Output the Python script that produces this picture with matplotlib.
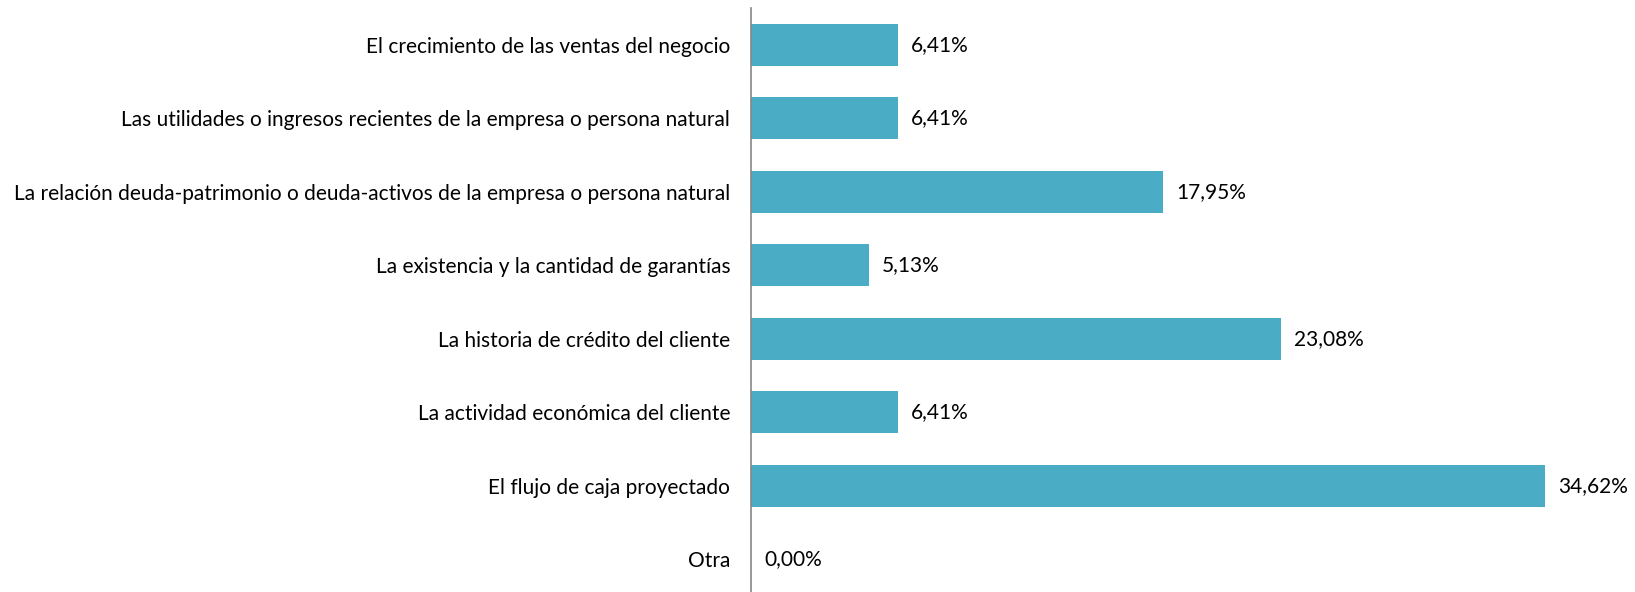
import matplotlib
matplotlib.use("Agg")
import matplotlib.pyplot as plt

categories = [
    "El crecimiento de las ventas del negocio",
    "Las utilidades o ingresos recientes de la empresa o persona natural",
    "La relación deuda-patrimonio o deuda-activos de la empresa o persona natural",
    "La existencia y la cantidad de garantías",
    "La historia de crédito del cliente",
    "La actividad económica del cliente",
    "El flujo de caja proyectado",
    "Otra",
]
values = [6.41, 6.41, 17.95, 5.13, 23.08, 6.41, 34.62, 0.00]
labels = ["6,41%", "6,41%", "17,95%", "5,13%", "23,08%", "6,41%", "34,62%", "0,00%"]

plt.rcParams['font.family'] = ['Lato', 'DejaVu Sans']

W, H = 1635, 592
fig = plt.figure(figsize=(W / 100, H / 100), dpi=100)
left = 751 / W
top_px, bot_px = 8, 596
ax = fig.add_axes([left, (H - bot_px) / H, 0.9927 - left, (bot_px - top_px) / H])

pos = list(range(len(categories)))
ax.barh(pos, values, height=0.57, color="#4BACC6", edgecolor="none")
ax.set_ylim(len(categories) - 0.5, -0.5)
ax.set_xlim(0, 38)
ax.set_yticks(pos)
ax.set_yticklabels(categories, fontsize=15.05, color="#000000")
ax.tick_params(axis="y", length=0, pad=15)
ax.set_xticks([])
for s in ["top", "right", "bottom"]:
    ax.spines[s].set_visible(False)
ax.spines["left"].set_color("#868686")
ax.spines["left"].set_linewidth(1.2)

for p, v, lab in zip(pos, values, labels):
    ax.annotate(lab, xy=(v, p), xytext=(13, 0), textcoords="offset pixels",
                va="center", ha="left", fontsize=15.05, color="#000000")

fig.savefig("out.png", dpi=100)
